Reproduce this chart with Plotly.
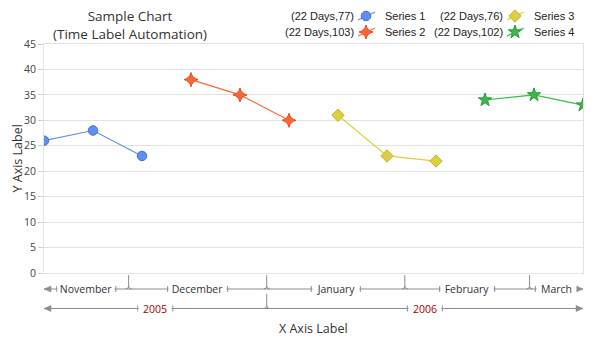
import plotly.graph_objects as go
import pandas as pd

# ---------------- data ----------------
series_names = ["Series 1", "Series 2", "Series 3", "Series 4"]
dates_s1 = ["2005-11-12", "2005-11-23", "2005-12-04"]
dates_s2 = ["2005-12-15", "2005-12-26", "2006-01-06"]
dates_s3 = ["2006-01-17", "2006-01-28", "2006-02-08"]
dates_s4 = ["2006-02-19", "2006-03-02", "2006-03-13"]
values_s1 = [26, 28, 23]
values_s2 = [38, 35, 30]
values_s3 = [31, 23, 22]
values_s4 = [34, 35, 33]
month_labels = ["November", "December", "January", "February", "March"]
month_starts = ["2005-11-01", "2005-12-01", "2006-01-01", "2006-02-01", "2006-03-01", "2006-04-01"]
year_labels = ["2005", "2006"]
year_starts = ["2005-01-01", "2006-01-01", "2007-01-01"]
y_ticks = [0, 5, 10, 15, 20, 25, 30, 35, 40, 45]
x_range = ["2005-11-12", "2006-03-13"]

# ---------------- style ----------------
W, H = 593, 343
ML, MR, MT, MB = 44, 10, 44, 70
PW, PH = W - ML - MR, H - MT - MB
FONT = "Open Sans"
LEGFONT = "Liberation Sans"
GRID = "#e2e2e2"
LINE = "#8c8c8c"
TXT = "#333333"
YEARCOL = "#a00000"
fills = ["#5f8ff0", "#ff6633", "#ddd040", "#3cba4a"]
edges = ["#3f70d8", "#e04a1c", "#c2b22a", "#27993a"]
symbols = ["circle", "star-diamond", "diamond", "star"]
msizes = [9.5, 10, 9.5, 10]
label_w = {"November": 59, "December": 60, "January": 49, "February": 55, "March": 42,
           "2005": 35, "2006": 35}
MONTH_Y, YEAR_Y = -16, -35.5
# legend layout (pixel positions): marker centre x, prefix right edge, name left edge; row centre y
leg_cols = [(366, 356, 383), (366, 356, 383), (515, 505, 532), (515, 505, 532)]
leg_rows = [16, 32, 16, 32]

all_dates = [dates_s1, dates_s2, dates_s3, dates_s4]
all_vals = [values_s1, values_s2, values_s3, values_s4]

fig = go.Figure()
for i, name in enumerate(series_names):
    fig.add_trace(go.Scatter(
        x=all_dates[i], y=all_vals[i], mode="lines+markers", name=name, showlegend=False,
        line=dict(color=fills[i], width=1.2),
        marker=dict(symbol=symbols[i], size=msizes[i], color=fills[i],
                    line=dict(color=edges[i], width=1)),
    ))

annotations = []
shapes = []
legends = {}
legend_keys = ["legend", "legend2", "legend3", "legend4"]

# manual legend: marker from a legend entry, line + texts drawn around it
for i, name in enumerate(series_names):
    mx, pre_r, name_l = leg_cols[i]
    ry = leg_rows[i]
    d = pd.to_datetime(all_dates[i])
    span = (d.max() - d.min()).days
    total = sum(all_vals[i])
    annotations.append(dict(
        text=f"({span} Days,{total})", xref="paper", yref="paper",
        x=(pre_r - ML) / PW, y=(MT + PH - ry) / PH, xanchor="right", yanchor="middle",
        showarrow=False, font=dict(family=LEGFONT, size=11, color="#222222")))
    annotations.append(dict(
        text=name, xref="paper", yref="paper",
        x=(name_l - ML) / PW, y=(MT + PH - ry) / PH, xanchor="left", yanchor="middle",
        showarrow=False, font=dict(family=LEGFONT, size=11, color="#222222")))
    shapes.append(dict(type="line", xref="paper", xsizemode="pixel", xanchor=0,
                       yref="paper", ysizemode="pixel", yanchor=0,
                       x0=mx - 8 - ML, y0=MT + PH - (ry + 4), x1=mx + 9 - ML, y1=MT + PH - (ry - 4),
                       line=dict(color=fills[i], width=1.2)))
    fig.add_trace(go.Scatter(
        x=[None], y=[None], mode="markers", name=" ", showlegend=True,
        legend=legend_keys[i], hoverinfo="skip",
        marker=dict(symbol=symbols[i], size=msizes[i], color=fills[i],
                    line=dict(color=edges[i], width=1))))
    legends[legend_keys[i]] = dict(
        x=(mx - 20 - ML) / PW, y=(MT + PH - ry) / PH, xanchor="left", yanchor="middle",
        bgcolor="rgba(0,0,0,0)", borderwidth=0, itemwidth=30,
        font=dict(family=LEGFONT, size=11, color="#222222"))

# title and axis titles
annotations.append(dict(text="Sample Chart<br>(Time Label Automation)", xref="paper", yref="paper",
                        x=(129.5 - ML) / PW, y=1, yshift=19.5, yanchor="middle", xanchor="center",
                        showarrow=False, font=dict(family=FONT, size=13.5, color=TXT)))
annotations.append(dict(text="Y Axis Label", xref="paper", yref="paper", x=0, xshift=-27, y=0.5,
                        textangle=-90, showarrow=False, xanchor="center", yanchor="middle",
                        font=dict(family=FONT, size=12.5, color=TXT)))
annotations.append(dict(text="X Axis Label", xref="paper", yref="paper", x=0.5, y=0, yshift=-55,
                        showarrow=False, xanchor="center", yanchor="middle",
                        font=dict(family=FONT, size=12.5, color=TXT)))

xr0, xr1 = pd.Timestamp(x_range[0]), pd.Timestamp(x_range[1])


def fmt(t):
    return t.strftime("%Y-%m-%d %H:%M:%S")


def time_row(labels, starts, yoff, color, tick_top):
    shapes.append(dict(type="line", xref="paper", x0=0, x1=1, yref="paper", ysizemode="pixel",
                       yanchor=0, y0=yoff, y1=yoff, line=dict(color=LINE, width=1)))
    shapes.append(dict(type="path", xref="paper", xsizemode="pixel", xanchor=0, yref="paper",
                       ysizemode="pixel", yanchor=0,
                       path=f"M 0,{yoff} L 7,{yoff+3} L 7,{yoff-3} Z",
                       fillcolor=LINE, line=dict(color=LINE, width=0.5)))
    shapes.append(dict(type="path", xref="paper", xsizemode="pixel", xanchor=1, yref="paper",
                       ysizemode="pixel", yanchor=0,
                       path=f"M 0,{yoff} L -7,{yoff+3} L -7,{yoff-3} Z",
                       fillcolor=LINE, line=dict(color=LINE, width=0.5)))
    for j, lab in enumerate(labels):
        s, e = pd.Timestamp(starts[j]), pd.Timestamp(starts[j + 1])
        a, b = max(s, xr0), min(e, xr1)
        c = a + (b - a) / 2
        w = label_w[lab]
        annotations.append(dict(text=lab, xref="x", x=fmt(c), yref="paper", y=0, yshift=yoff,
                                xanchor="center", yanchor="middle", showarrow=False,
                                width=w - 3, bgcolor="white", borderpad=0, align="center",
                                font=dict(family=FONT, size=10.5, color=color)))
        for sx in (-w / 2, w / 2):
            shapes.append(dict(type="line", xref="x", xsizemode="pixel", xanchor=fmt(c),
                               x0=sx, x1=sx, yref="paper", ysizemode="pixel", yanchor=0,
                               y0=yoff - 3, y1=yoff + 3, line=dict(color=LINE, width=1)))
        if xr0 < s < xr1:
            shapes.append(dict(type="path", xref="x", xsizemode="pixel", xanchor=fmt(s),
                               yref="paper", ysizemode="pixel", yanchor=0,
                               path=(f"M -3,{yoff} Q 0,{yoff} 0,{yoff+3} L 0,{tick_top} "
                                     f"M 3,{yoff} Q 0,{yoff} 0,{yoff+3}"),
                               line=dict(color=LINE, width=1)))


time_row(month_labels, month_starts, MONTH_Y, TXT, -2)
time_row(year_labels, year_starts, YEAR_Y, YEARCOL, -21)

fig.update_layout(
    width=W, height=H, margin=dict(l=ML, r=MR, t=MT, b=MB, autoexpand=False),
    paper_bgcolor="white", plot_bgcolor="white",
    showlegend=True, annotations=annotations, shapes=shapes,
    xaxis=dict(type="date", range=x_range, showticklabels=False, showgrid=False, ticks="",
               zeroline=False, showline=True, mirror=True, linecolor=GRID, linewidth=1),
    yaxis=dict(range=[0, 45], tickvals=y_ticks, showgrid=True, gridcolor=GRID, gridwidth=1,
               zeroline=False, showline=True, mirror=True, linecolor=GRID, linewidth=1,
               ticks="outside", ticklen=5, tickcolor="#d0d0d0",
               tickfont=dict(family=FONT, size=10.5, color="#444444")),
    **legends,
)
fig.write_html("out.html")
